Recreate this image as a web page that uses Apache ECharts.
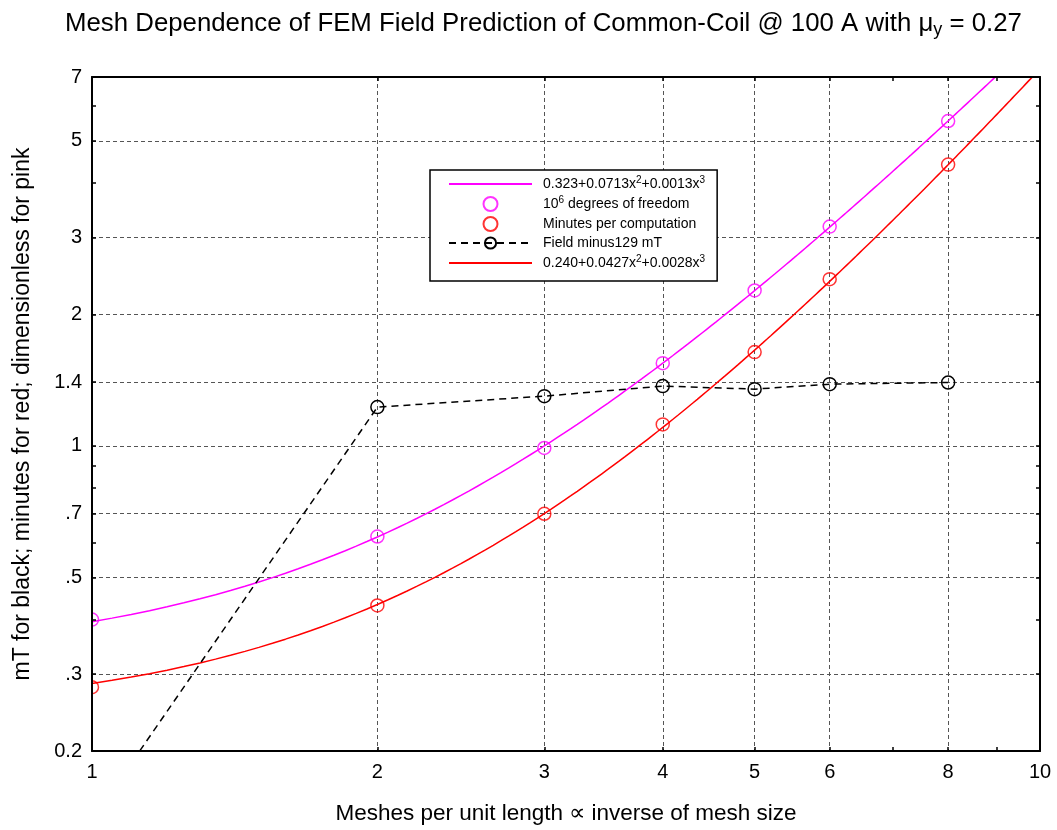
<!DOCTYPE html>
<html>
<head>
<meta charset="utf-8">
<script src="https://cdn.jsdelivr.net/npm/echarts@6/dist/echarts.min.js"></script>
<style>
  html, body { margin: 0; padding: 0; background: #fff; }
  #chart { width: 1057px; height: 830px; }
</style>
</head>
<body>
<div id="chart"></div>
<script>
// Mesh density (meshes per unit length)
const meshes = [1, 2, 3, 4, 5, 6, 8];
// 10^6 degrees of freedom (pink)
const dofMillions = [0.400, 0.620, 0.989, 1.547, 2.27, 3.18, 5.55];
// Minutes per computation (red)
const minutesPerRun = [0.280, 0.431, 0.699, 1.12, 1.64, 2.41, 4.41];
// Field minus 129 mT (black)
const fieldMinus129 = [0.139, 1.227, 1.30, 1.371, 1.349, 1.385, 1.397];
// Fit coefficients a + b*x^2 + c*x^3, as printed in the legend
const dofFitCoef = [0.323, 0.0713, 0.0013];
const minutesFitCoef = [0.240, 0.0427, 0.0028];

// Axis ticks
const xTickValues = [1, 2, 3, 4, 5, 6, 8, 10];
const xGridValues = [2, 3, 4, 5, 6, 8];
const xMinorTicks = [7, 9];
const yTickValues = [0.2, 0.3, 0.5, 0.7, 1, 1.4, 2, 3, 5, 7];
const yTickLabels = ['0.2', '.3', '.5', '.7', '1', '1.4', '2', '3', '5', '7'];
const yGridValues = [0.3, 0.5, 0.7, 1, 1.4, 2, 3, 5];
const yMinorTicks = [0.4, 0.6, 0.8, 0.9, 4, 6];

const FONT = '"Liberation Sans", Arial, Helvetica, sans-serif';
const PINK = '#ff00ff';
const RED = '#ff0000';

// Sample a fitted cubic along the x range
function fitCurve(coef) {
  const pts = [];
  for (let x = 1; x <= 10.0001; x += 0.05) {
    pts.push([x, coef[0] + coef[1] * x * x + coef[2] * x * x * x]);
  }
  return pts;
}
const pairs = (ys) => meshes.map((x, i) => [x, ys[i]]);

const legendText = {
  dofFit: '{n|0.323+0.0713x}{s|2}{n|+0.0013x}{s|3}',
  dof: '{n|10}{s|6}{n| degrees of freedom}',
  minutes: '{n|Minutes per computation}',
  field: '{n|Field minus129 mT}',
  minutesFit: '{n|0.240+0.0427x}{s|2}{n|+0.0028x}{s|3}'
};

const allX = xTickValues.concat(xMinorTicks).sort((a, b) => a - b);
const allY = yTickValues.concat(yMinorTicks).sort((a, b) => a - b);

const tickStyle = { show: true, inside: true, length: 4, lineStyle: { color: '#000', width: 1.5 } };
const frameLine = { show: true, onZero: false, lineStyle: { color: '#000', width: 2 } };
const gridLine = { show: true, lineStyle: { color: '#555', width: 1, type: [4, 3] } };
const hiddenMarker = { opacity: 0 };

const chart = echarts.init(document.getElementById('chart'), null, { renderer: 'canvas' });

chart.setOption({
  backgroundColor: '#fff',
  animation: false,
  title: {
    text: '{t|Mesh Dependence of FEM Field Prediction of Common-Coil @ 100 A with \u03bc}{sub|y}{t| = 0.27}',
    left: 60,
    top: 4,
    textStyle: {
      fontWeight: 'normal',
      rich: {
        t: { fontFamily: FONT, fontSize: 25.8, fontWeight: 'normal', color: '#000', lineHeight: 30 },
        sub: { fontFamily: FONT, fontSize: 18, fontWeight: 'normal', color: '#000', lineHeight: 4, verticalAlign: 'bottom' }
      }
    }
  },
  grid: { left: 92, right: 17, top: 77, bottom: 77, containLabel: false },
  legend: {
    orient: 'vertical',
    left: 430,
    top: 170,
    padding: [5, 12, 11, 18],
    itemWidth: 83,
    itemHeight: 14,
    itemGap: 4,
    borderColor: '#000',
    borderWidth: 1.5,
    backgroundColor: '#fff',
    data: [
      { name: 'dofFit', itemStyle: hiddenMarker },
      'dof',
      'minutes',
      'field',
      { name: 'minutesFit', itemStyle: hiddenMarker }
    ],
    formatter: (name) => legendText[name],
    textStyle: {
      padding: [0, 0, 0, 6],
      rich: {
        n: { fontFamily: FONT, fontSize: 14, color: '#000', lineHeight: 18 },
        s: { fontFamily: FONT, fontSize: 10, color: '#000', lineHeight: 8, verticalAlign: 'top' }
      }
    }
  },
  graphic: [{
    // masks the halves of edge markers that fall left of the frame
    type: 'rect', z: 5, silent: true,
    shape: { x: 0, y: 70, width: 91, height: 690 },
    style: { fill: '#fff' }
  }],
  xAxis: [
    {
      type: 'log', logBase: 10, min: 1, max: 10, position: 'bottom', z: 10,
      name: 'Meshes per unit length \u221d inverse of mesh size',
      nameLocation: 'middle', nameGap: 51,
      nameTextStyle: { fontFamily: FONT, fontSize: 22.5, color: '#000' },
      axisLine: frameLine,
      axisTick: Object.assign({ customValues: allX }, tickStyle),
      axisLabel: {
        customValues: xTickValues, showMinLabel: true, showMaxLabel: true,
        margin: 11, fontFamily: FONT, fontSize: 20, color: '#000',
        formatter: (v) => String(Math.round(v))
      },
      splitLine: { show: false }
    },
    {
      type: 'log', logBase: 10, min: 1, max: 10, position: 'top', z: 10,
      axisLine: frameLine,
      axisTick: Object.assign({ customValues: allX }, tickStyle),
      axisLabel: { show: false },
      splitLine: { show: false }
    },
    {
      type: 'log', logBase: 10, min: 1, max: 10, position: 'bottom', z: 1,
      axisLine: { show: false },
      axisTick: { show: false, customValues: xGridValues },
      axisLabel: { show: false },
      splitLine: gridLine
    }
  ],
  yAxis: [
    {
      type: 'log', logBase: 10, min: 0.2, max: 7, position: 'left', z: 10,
      name: 'mT for black; minutes for red; dimensionless for pink',
      nameLocation: 'middle', nameGap: 58,
      nameTextStyle: { fontFamily: FONT, fontSize: 23, color: '#000' },
      axisLine: frameLine,
      axisTick: Object.assign({ customValues: allY }, tickStyle),
      axisLabel: {
        customValues: yTickValues, showMinLabel: true, showMaxLabel: true,
        margin: 10, fontFamily: FONT, fontSize: 20, color: '#000',
        formatter: (v) => {
          const i = yTickValues.findIndex((t) => Math.abs(t - v) < 1e-6 * t);
          return i >= 0 ? yTickLabels[i] : '';
        }
      },
      splitLine: { show: false }
    },
    {
      type: 'log', logBase: 10, min: 0.2, max: 7, position: 'right', z: 10,
      axisLine: frameLine,
      axisTick: Object.assign({ customValues: allY }, tickStyle),
      axisLabel: { show: false },
      splitLine: { show: false }
    },
    {
      type: 'log', logBase: 10, min: 0.2, max: 7, position: 'left', z: 1,
      axisLine: { show: false },
      axisTick: { show: false, customValues: yGridValues },
      axisLabel: { show: false },
      splitLine: gridLine
    }
  ],
  series: [
    {
      name: 'dofFit', type: 'line', data: fitCurve(dofFitCoef),
      showSymbol: false, symbol: 'none', smooth: false,
      lineStyle: { color: PINK, width: 1.5 }, itemStyle: { color: PINK }, z: 2
    },
    {
      name: 'dof', type: 'scatter', data: pairs(dofMillions),
      symbol: 'circle', symbolSize: 13,
      itemStyle: { color: 'rgba(0,0,0,0)', borderColor: PINK, borderWidth: 1.5 }, z: 3
    },
    {
      name: 'minutes', type: 'scatter', data: pairs(minutesPerRun),
      symbol: 'circle', symbolSize: 13,
      itemStyle: { color: 'rgba(0,0,0,0)', borderColor: RED, borderWidth: 1.5 }, z: 3
    },
    {
      name: 'field', type: 'line', data: pairs(fieldMinus129),
      symbol: 'circle', symbolSize: 13, showAllSymbol: true,
      lineStyle: { color: '#000', width: 1.5, type: [7, 5] },
      itemStyle: { color: 'rgba(0,0,0,0)', borderColor: '#000', borderWidth: 1.5 }, z: 3
    },
    {
      name: 'minutesFit', type: 'line', data: fitCurve(minutesFitCoef),
      showSymbol: false, symbol: 'none',
      lineStyle: { color: RED, width: 1.5 }, itemStyle: { color: RED }, z: 2
    }
  ]
});
</script>
</body>
</html>
